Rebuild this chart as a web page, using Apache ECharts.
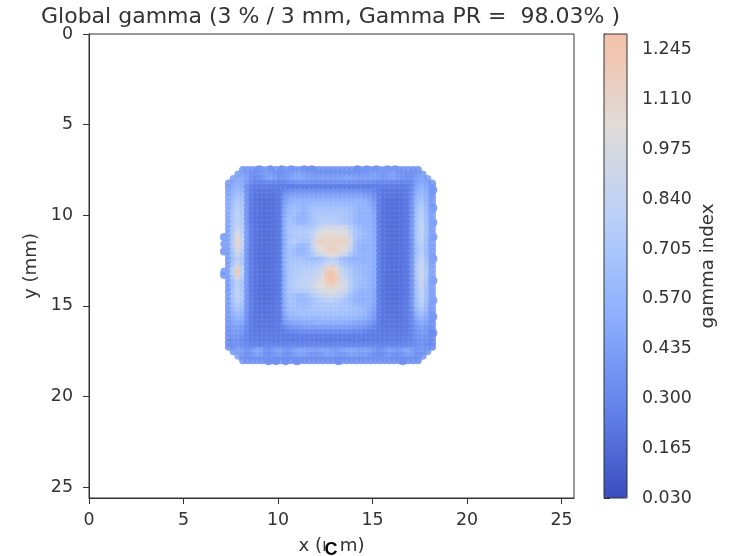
<!DOCTYPE html>
<html><head><meta charset="utf-8">
<style>html,body{margin:0;padding:0;background:#fff}#c{width:738px;height:556px;filter:blur(0.45px)}</style>
<script src="https://cdn.jsdelivr.net/npm/echarts@6/dist/echarts.min.js"></script>
</head><body><div id="c"></div>
<script>
const titleText = 'Global gamma (3 % / 3 mm, Gamma PR =  98.03% )';
const colorbarTicks = [0.030,0.165,0.300,0.435,0.570,0.705,0.840,0.975,1.110,1.245];
const colormap = ['#3b4cc0','#6485ec','#8fb1fe','#b9d0f9','#e0dbd8','#f5c0a7'];
const xStart = 7.4, yStart = 7.5, cellStep = 0.25;
// gamma index in hundredths; one row per 0.25 mm
const gammaRows = [
[null,null,null,36,36,36,36,38,38,36,36,36,38,38,36,36,36,34,34,34,34,34,34,34,34,34,34,34,34,36,36,36,36,38,38,38,36,36,36,34,34,null,null,null],
[null,null,40,44,40,34,34,38,42,40,36,34,36,40,44,44,42,38,38,36,36,36,36,36,36,36,36,36,36,38,40,42,40,38,42,44,38,36,34,34,38,40,null,null],
[null,42,48,50,44,34,32,36,42,46,42,36,38,42,48,48,46,44,42,42,44,44,42,42,44,46,46,44,42,44,44,44,42,38,42,44,40,36,34,36,42,46,40,null],
[38,46,52,50,40,32,28,28,30,30,30,28,30,32,34,36,36,36,36,34,34,34,34,36,36,36,34,34,34,34,34,32,30,30,30,30,30,28,28,32,44,48,44,36],
[42,50,56,50,34,26,24,24,24,24,24,24,24,24,24,24,24,24,24,24,24,24,24,24,24,24,24,24,24,24,24,24,24,24,24,24,24,24,26,32,48,54,46,38],
[44,54,62,58,34,24,22,22,22,22,22,24,30,34,36,36,36,36,36,36,36,36,36,36,36,36,36,36,36,34,32,28,24,22,22,22,22,22,24,34,52,58,50,38],
[46,58,68,62,34,24,20,20,20,20,21,24,38,44,46,46,46,46,46,46,46,46,46,46,46,46,46,46,46,44,42,34,24,21,20,20,20,21,24,36,56,62,52,38],
[48,62,72,66,34,23,20,19,19,19,20,24,42,50,54,54,54,54,54,54,56,56,56,54,54,54,54,54,54,52,46,38,24,20,19,19,19,20,23,38,60,66,54,40],
[48,66,76,70,36,23,20,19,19,19,20,24,46,56,60,58,56,60,62,62,62,62,62,62,62,60,60,58,56,56,50,42,24,20,19,18,19,20,23,38,64,72,58,40],
[48,68,78,72,36,23,20,19,18,19,20,24,48,60,64,60,56,62,66,68,68,68,68,68,68,66,64,58,54,56,54,44,24,20,19,18,19,20,23,38,66,76,60,42],
[48,70,80,72,36,23,20,19,18,19,20,24,50,62,64,56,54,60,68,70,72,72,72,72,70,68,66,58,52,54,54,46,24,20,19,18,19,20,23,40,68,78,62,44],
[46,70,80,74,36,23,20,19,18,19,20,24,52,64,62,54,54,60,68,72,74,74,74,74,72,68,66,58,52,54,54,46,24,20,19,18,19,20,23,40,70,80,64,44],
[46,72,82,74,36,23,20,19,18,19,20,24,52,66,64,58,58,62,68,72,78,78,78,76,74,70,68,58,54,54,54,48,24,20,19,18,19,20,23,40,72,82,64,44],
[44,72,86,76,38,24,20,19,18,19,20,24,54,68,70,70,70,72,74,84,92,94,94,94,94,90,76,66,60,56,56,48,24,20,19,18,19,20,23,40,72,84,66,44],
[44,72,94,78,38,24,20,19,18,19,20,24,54,68,72,74,74,76,80,98,102,104,104,102,102,100,84,68,64,60,56,50,24,20,19,18,19,20,23,40,72,84,66,44],
[46,74,106,82,38,24,20,19,18,19,20,24,54,68,72,74,72,74,84,102,106,108,108,108,106,106,88,68,62,58,56,50,24,20,19,18,19,20,23,40,72,82,64,44],
[46,76,112,86,38,24,20,19,18,19,20,24,54,70,76,72,68,72,88,114,116,112,114,116,112,116,94,66,60,56,56,50,24,20,19,18,19,20,23,38,70,80,62,44],
[44,74,108,84,38,24,20,19,18,19,20,24,54,68,68,60,58,66,84,104,108,112,112,110,108,108,90,64,56,54,56,50,24,20,19,18,19,20,23,38,68,78,62,42],
[44,72,98,78,36,24,20,19,18,19,20,24,54,66,62,56,56,64,80,100,104,112,116,114,106,100,82,62,54,52,56,50,24,20,19,18,19,20,23,38,66,76,60,42],
[42,68,88,72,36,24,20,19,18,19,20,24,54,66,64,60,60,64,72,86,92,100,104,102,90,84,68,60,56,54,56,50,24,20,19,18,19,20,23,38,68,80,62,42],
[42,64,76,68,36,24,20,19,18,19,20,24,54,68,68,68,66,64,62,62,68,76,80,76,64,58,54,52,54,54,56,50,24,20,19,18,19,20,23,38,72,84,66,44],
[40,68,88,70,36,24,20,19,18,19,20,24,54,68,70,72,72,70,70,74,78,88,92,82,74,66,62,58,58,56,56,50,24,20,19,18,19,20,23,40,74,88,70,44],
[44,78,114,80,36,24,20,19,18,19,20,24,54,70,72,74,76,76,78,82,88,112,118,106,82,76,68,62,60,58,56,50,24,20,19,18,19,20,23,40,76,90,72,46],
[46,82,120,84,36,24,20,19,18,19,20,24,54,70,74,76,78,80,82,88,96,122,126,116,88,80,72,64,62,58,56,50,24,20,19,18,19,20,23,40,76,92,72,46],
[42,72,94,76,36,24,20,19,18,19,20,24,54,72,74,78,80,82,86,90,100,122,126,120,92,84,74,66,62,60,56,50,24,20,19,18,19,20,23,40,74,90,70,44],
[40,66,80,70,36,24,20,19,18,19,20,24,54,72,76,80,82,84,90,96,104,118,124,116,96,90,76,66,62,60,56,50,24,20,19,18,19,20,23,38,72,88,68,44],
[40,66,78,68,36,24,20,19,18,19,20,24,54,72,76,80,82,84,92,98,104,110,112,108,100,92,76,66,60,58,56,50,24,20,19,18,19,20,23,38,70,86,66,44],
[40,68,82,70,36,24,20,19,18,19,20,24,54,70,72,74,74,76,84,92,98,100,100,98,94,86,72,62,56,56,54,48,24,20,19,18,19,20,23,38,68,84,66,44],
[42,68,84,72,36,24,20,19,18,19,20,24,54,68,66,60,60,66,74,82,88,90,92,88,82,76,66,58,54,54,54,48,24,20,19,18,19,20,23,38,68,84,66,44],
[40,66,80,70,36,24,20,19,19,19,20,24,52,66,64,58,58,62,68,72,76,78,80,76,72,66,62,56,52,52,54,48,24,20,19,19,19,20,23,38,68,82,64,44],
[40,64,74,66,36,24,20,20,19,20,21,24,52,66,66,62,60,64,68,70,72,74,74,72,70,68,64,58,56,56,54,46,24,21,20,19,20,21,24,38,66,78,62,42],
[40,60,68,62,36,24,21,20,20,20,21,24,50,64,66,66,66,66,68,68,70,70,70,70,68,68,66,64,62,58,52,44,24,21,20,20,20,21,24,36,62,72,58,40],
[40,56,62,58,34,24,21,21,20,21,22,24,48,60,62,64,64,64,66,66,66,66,66,66,66,66,64,62,60,56,48,42,24,22,21,20,21,22,24,34,56,64,52,38],
[38,50,56,52,34,24,22,21,21,21,22,24,44,54,56,56,58,58,58,58,60,60,60,60,58,58,58,56,54,52,46,38,24,22,21,21,21,22,24,32,50,56,48,38],
[38,46,50,46,32,24,22,22,22,22,23,24,38,44,48,48,50,50,50,52,52,52,52,52,52,50,50,48,46,44,40,34,24,22,22,22,22,23,24,32,44,50,44,36],
[36,42,44,40,30,24,23,22,22,22,23,24,30,36,38,40,40,42,42,42,42,42,42,42,42,42,40,40,38,36,32,28,24,22,22,22,22,23,24,30,40,44,40,34],
[34,40,42,38,28,24,23,23,23,23,23,24,26,28,30,30,32,32,32,32,32,32,32,32,32,32,32,30,30,28,26,25,24,23,23,23,23,23,25,30,38,42,38,32],
[34,38,38,34,28,25,24,24,24,24,24,24,24,24,24,24,24,25,25,25,25,25,25,25,25,25,24,24,24,24,24,24,24,24,24,24,24,24,25,28,36,38,36,32],
[32,34,34,32,28,25,25,24,24,24,24,24,24,24,24,24,24,24,24,24,24,24,24,24,24,24,24,24,24,24,24,24,24,24,24,24,24,25,26,28,34,34,34,30],
[32,34,36,34,30,28,28,28,30,30,30,30,28,30,30,30,30,30,30,30,30,30,30,30,30,30,30,30,30,30,30,30,30,28,28,28,30,30,30,30,34,36,34,30],
[null,38,46,42,36,40,48,46,36,36,42,46,40,36,44,48,48,44,44,44,46,46,42,40,44,48,50,46,44,48,44,38,34,38,44,42,38,44,48,42,36,40,36,null],
[null,null,42,40,34,38,44,42,34,34,38,42,36,34,40,44,44,40,38,38,40,44,44,40,38,40,44,42,40,42,38,34,32,34,38,36,34,38,42,40,34,36,null,null],
[null,null,null,34,34,34,34,34,34,34,34,34,34,34,34,34,34,34,34,34,34,34,34,34,34,34,34,34,34,34,34,34,34,34,34,34,34,34,34,34,34,null,null,null]
];
const edgePoints = [[7.14,11.2,.36],[7.16,11.6,.38],[7.14,12,.36],[7.16,13.1,.40],[7.14,13.3,.38],
[9,7.46,.34],[9.6,7.46,.36],[10.2,7.46,.34],[10.7,7.46,.36],[11.4,7.46,.34],[11.8,7.46,.34],[14.2,7.46,.34],[14.7,7.46,.36],[15.2,7.46,.34],[15.8,7.46,.36],[16.2,7.46,.34],
[9.5,18.06,.34],[9.9,18.06,.34],[10.4,18.06,.34],[11,18.06,.34],[13.2,18.06,.34],[16.6,18.06,.34],
[18.22,8.6,.36],[18.22,9.6,.36],[18.22,10.4,.36],[18.22,11.2,.36],[18.22,12.4,.36],[18.22,13.6,.36],[18.22,14.7,.36],[18.22,15.6,.36],[18.22,16.5,.36]];

const points = edgePoints.slice();
gammaRows.forEach((row,j)=>row.forEach((v,i)=>{ if(v!==null) points.push([xStart+i*cellStep,yStart+j*cellStep,v/100]); }));
const ink = '#333', txt = '#333';
const font = 'DejaVu Sans';
const chart = echarts.init(document.getElementById('c'),null,{renderer:'canvas'});
const tickFont = 17.4, nameFont = 18.2;
chart.setOption({
  animation:false, backgroundColor:'#fff',
  title:{text:titleText,left:325.5,top:1,textAlign:'center',textStyle:{fontFamily:font,fontSize:22,fontWeight:'normal',color:txt}},
  grid:[{left:89,top:34,width:485,height:464,show:true,borderColor:ink,borderWidth:1,backgroundColor:'#fff',outerBoundsMode:'none'},
        {left:604,top:34,width:23,height:464,outerBoundsMode:'none'}],
  xAxis:[{type:'value',min:0,max:25.66,interval:5,position:'bottom',name:'x (mm)',nameLocation:'middle',nameGap:39,
          nameTextStyle:{fontFamily:font,fontSize:nameFont,color:txt},
          axisLine:{onZero:false,lineStyle:{color:ink}},axisTick:{length:6,lineStyle:{color:ink}},splitLine:{show:false},
          axisLabel:{fontFamily:font,fontSize:tickFont,color:txt,margin:14}},
         {gridIndex:1,type:'value',min:0,max:1,show:false}],
  yAxis:[{type:'value',inverse:true,min:0,max:25.6,interval:5,name:'y (mm)',nameLocation:'middle',nameGap:41,nameRotate:90,
          nameTextStyle:{fontFamily:font,fontSize:nameFont,color:txt},
          axisLine:{onZero:false,lineStyle:{color:ink}},axisTick:{length:6,lineStyle:{color:ink}},splitLine:{show:false},
          axisLabel:{fontFamily:font,fontSize:tickFont,color:txt,margin:16,padding:[4,0,0,0],showMaxLabel:false,showMinLabel:true}},
         {gridIndex:1,type:'value',position:'right',min:0.03,max:1.288,name:'gamma index',nameLocation:'middle',nameGap:72,nameRotate:90,
          nameTextStyle:{fontFamily:font,fontSize:nameFont,color:txt},
          axisLine:{show:true,lineStyle:{color:ink}},
          axisTick:{show:true,length:6,lineStyle:{color:ink},customValues:colorbarTicks},
          splitLine:{show:false},
          axisLabel:{fontFamily:font,fontSize:tickFont,color:txt,margin:15,padding:[5,0,0,0],customValues:colorbarTicks,formatter:v=>v.toFixed(3)}}],
  visualMap:{type:'continuous',seriesIndex:0,min:0.03,max:1.288,left:604,top:34,itemWidth:23,itemHeight:464,
    calculable:false,realtime:false,text:null,showLabel:false,inRange:{color:colormap},
    borderWidth:0,padding:0,z:1},
  series:[{type:'scatter',xAxisIndex:0,yAxisIndex:0,data:points,symbol:'circle',symbolSize:8,
    itemStyle:{opacity:0.85},silent:true}],
  graphic:[
    {type:'rect',shape:{x:604,y:34,width:23,height:464},style:{fill:'none',stroke:ink,lineWidth:1},z:50,silent:true},
    {type:'rect',shape:{x:325,y:534,width:15,height:22},style:{fill:'#fff'},z:60,silent:true},
    {type:'text',x:331,y:550,style:{text:'C',fontFamily:'Liberation Sans',fontSize:18,fontWeight:'bold',fill:'#000',textAlign:'center',textVerticalAlign:'middle'},z:61,silent:true}
  ]
});
</script></body></html>
